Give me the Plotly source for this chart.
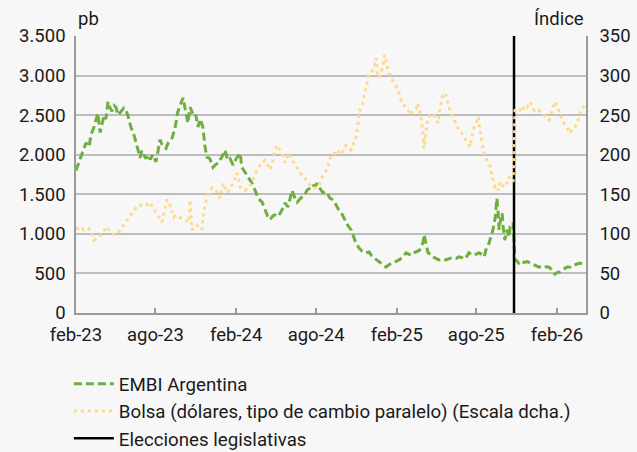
import plotly.graph_objects as go

embi_dates = [
"2023-02-01","2023-02-10","2023-02-17","2023-02-24","2023-03-03","2023-03-07","2023-03-14","2023-03-19","2023-03-23","2023-03-28",
"2023-04-01","2023-04-06","2023-04-10","2023-04-15","2023-04-19","2023-04-24","2023-04-29","2023-05-03","2023-05-08","2023-05-12",
"2023-05-17","2023-05-21","2023-05-26","2023-05-30","2023-06-06","2023-06-13","2023-06-18","2023-06-22","2023-06-27","2023-07-01",
"2023-07-06","2023-07-10","2023-07-15","2023-07-20","2023-07-26","2023-08-02","2023-08-07","2023-08-11","2023-08-16","2023-08-20",
"2023-08-25","2023-08-30","2023-09-03","2023-09-08","2023-09-15","2023-09-21","2023-09-28","2023-10-03","2023-10-07","2023-10-10",
"2023-10-14","2023-10-19","2023-10-23","2023-10-28","2023-11-01","2023-11-06","2023-11-11","2023-11-17","2023-11-22","2023-11-26",
"2023-12-03","2023-12-10","2023-12-17","2023-12-22","2023-12-28","2024-01-02","2024-01-06","2024-01-13","2024-01-18","2024-01-25",
"2024-02-01","2024-02-05","2024-02-10","2024-02-14","2024-02-21","2024-02-26","2024-03-03","2024-03-08","2024-03-15","2024-03-22",
"2024-03-31","2024-04-07","2024-04-13","2024-04-18","2024-04-25","2024-04-29","2024-05-06","2024-05-11","2024-05-18","2024-05-22",
"2024-05-29","2024-06-03","2024-06-07","2024-06-14","2024-06-19","2024-06-25","2024-06-30","2024-07-07","2024-07-11","2024-07-18",
"2024-07-23","2024-07-30","2024-08-03","2024-08-10","2024-08-17","2024-08-24","2024-09-02","2024-09-09","2024-09-15","2024-09-22",
"2024-09-29","2024-10-08","2024-10-13","2024-10-20","2024-10-26","2024-10-31","2024-11-07","2024-11-14","2024-11-23","2024-11-30",
"2024-12-06","2024-12-16","2024-12-22","2024-12-27","2025-01-03","2025-01-07","2025-01-14","2025-01-23","2025-01-30","2025-02-06",
"2025-02-13","2025-02-22","2025-03-01","2025-03-05","2025-03-12","2025-03-17","2025-03-24","2025-03-28","2025-04-02","2025-04-04",
"2025-04-09","2025-04-13","2025-04-20","2025-04-24","2025-05-01","2025-05-08","2025-05-17","2025-05-24","2025-06-02","2025-06-09",
"2025-06-16","2025-06-23","2025-06-29","2025-07-04","2025-07-11","2025-07-15","2025-07-22","2025-07-27","2025-08-03","2025-08-07",
"2025-08-14","2025-08-19","2025-08-25","2025-08-30","2025-09-01","2025-09-06","2025-09-08","2025-09-13","2025-09-15","2025-09-17",
"2025-09-20","2025-09-22","2025-09-24","2025-09-29","2025-10-01","2025-10-03","2025-10-05","2025-10-10","2025-10-12","2025-10-15",
"2025-10-17","2025-10-21","2025-10-24","2025-10-27","2025-10-28","2025-11-06","2025-11-11","2025-11-18","2025-11-25","2025-11-29",
"2025-12-06","2025-12-11","2025-12-17","2025-12-22","2025-12-29","2026-01-02","2026-01-09","2026-01-14","2026-01-21","2026-01-27",
"2026-02-01","2026-02-08","2026-02-12","2026-02-19","2026-02-24","2026-03-03","2026-03-07","2026-03-14","2026-03-19","2026-03-25",
"2026-03-30","2026-04-06"]
embi_values = [
1800,1950,2050,2150,2100,2250,2350,2450,2520,2280,
2400,2500,2450,2670,2600,2550,2620,2600,2500,2530,
2560,2590,2560,2500,2350,2250,2150,2050,1960,2050,
2000,1950,2000,1940,2000,1910,2050,2190,2130,2100,
2080,2150,2180,2210,2350,2540,2650,2720,2600,2500,
2400,2600,2550,2480,2500,2350,2450,2350,2100,1970,
1950,1840,1880,1890,1950,2000,2060,1930,1950,1870,
1950,1980,2020,1840,1780,1720,1680,1640,1550,1450,
1400,1300,1220,1180,1230,1240,1220,1260,1330,1390,
1340,1450,1550,1450,1400,1440,1470,1500,1550,1580,
1620,1600,1640,1570,1520,1530,1450,1430,1370,1300,
1250,1140,1100,1050,950,880,820,780,760,770,
720,670,650,630,600,580,610,630,650,670,
700,760,740,730,760,770,790,820,900,990,
850,760,740,710,690,670,680,670,690,700,
690,710,700,680,720,760,740,730,750,760,
740,710,840,880,920,1000,1050,1200,1300,1450,
1250,1050,1140,1260,1100,1010,920,1050,1000,960,
1090,1100,1140,800,680,630,660,640,650,640,
620,610,590,580,590,580,585,580,540,490,
510,520,540,560,580,580,600,610,620,630,
620,590]

bolsa_dates = [
"2023-02-01","2023-02-08","2023-02-12","2023-02-19","2023-02-26","2023-03-03","2023-03-07","2023-03-12","2023-03-14","2023-03-19",
"2023-03-26","2023-03-31","2023-04-06","2023-04-10","2023-04-15","2023-04-22","2023-04-26","2023-05-03","2023-05-08","2023-05-15",
"2023-05-19","2023-05-26","2023-05-30","2023-06-06","2023-06-10","2023-06-18","2023-06-22","2023-06-29","2023-07-06","2023-07-10",
"2023-07-15","2023-07-20","2023-07-24","2023-07-29","2023-08-04","2023-08-09","2023-08-16","2023-08-20","2023-08-25","2023-08-27",
"2023-09-01","2023-09-05","2023-09-12","2023-09-17","2023-09-24","2023-09-28","2023-10-05","2023-10-10","2023-10-17","2023-10-19",
"2023-10-21","2023-10-23","2023-10-30","2023-11-03","2023-11-11","2023-11-15","2023-11-17","2023-11-22","2023-11-26","2023-12-03",
"2023-12-08","2023-12-15","2023-12-19","2023-12-26","2024-01-02","2024-01-06","2024-01-13","2024-01-18","2024-01-25","2024-01-29",
"2024-02-03","2024-02-10","2024-02-14","2024-02-21","2024-02-28","2024-03-03","2024-03-10","2024-03-15","2024-03-22","2024-03-29",
"2024-04-02","2024-04-07","2024-04-13","2024-04-18","2024-04-25","2024-04-29","2024-05-04","2024-05-11","2024-05-15","2024-05-22",
"2024-05-29","2024-06-03","2024-06-10","2024-06-14","2024-06-21","2024-06-25","2024-07-02","2024-07-07","2024-07-14","2024-07-18",
"2024-07-25","2024-07-30","2024-08-06","2024-08-10","2024-08-15","2024-08-22","2024-08-26","2024-09-02","2024-09-09","2024-09-15",
"2024-09-20","2024-09-27","2024-10-01","2024-10-08","2024-10-13","2024-10-20","2024-10-24","2024-10-31","2024-11-05","2024-11-07",
"2024-11-14","2024-11-18","2024-11-25","2024-11-30","2024-12-06","2024-12-11","2024-12-16","2024-12-18","2024-12-22","2024-12-27",
"2024-12-31","2025-01-04","2025-01-09","2025-01-14","2025-01-20","2025-01-25","2025-02-01","2025-02-06","2025-02-10","2025-02-15",
"2025-02-22","2025-02-26","2025-03-05","2025-03-10","2025-03-17","2025-03-21","2025-03-26","2025-03-28","2025-04-02","2025-04-04",
"2025-04-09","2025-04-13","2025-04-20","2025-04-24","2025-05-01","2025-05-06","2025-05-10","2025-05-15","2025-05-19","2025-05-24",
"2025-05-31","2025-06-04","2025-06-11","2025-06-18","2025-06-23","2025-06-29","2025-07-06","2025-07-11","2025-07-18","2025-07-22",
"2025-07-27","2025-08-01","2025-08-05","2025-08-07","2025-08-12","2025-08-16","2025-08-21","2025-08-25","2025-08-30","2025-09-04",
"2025-09-06","2025-09-11","2025-09-13","2025-09-17","2025-09-20","2025-09-24","2025-09-29","2025-10-03","2025-10-08","2025-10-10",
"2025-10-15","2025-10-19","2025-10-24","2025-10-27","2025-10-28","2025-11-06","2025-11-13","2025-11-19","2025-11-25","2025-12-01",
"2025-12-06","2025-12-11","2025-12-17","2025-12-22","2025-12-29","2026-01-02","2026-01-09","2026-01-14","2026-01-21","2026-01-27",
"2026-02-01","2026-02-05","2026-02-12","2026-02-16","2026-02-23","2026-03-03","2026-03-07","2026-03-14","2026-03-19","2026-03-25",
"2026-03-30","2026-04-06"]
bolsa_values = [
106,108,109,105,107,106,105,97,92,94,
96,100,104,109,106,102,100,99,101,107,
110,115,118,124,128,134,136,136,135,136,
138,140,135,130,125,121,115,125,138,143,
140,134,121,124,121,120,118,117,115,143,
125,105,108,111,107,105,121,135,147,155,
158,156,153,145,164,158,152,158,164,170,
177,159,157,155,157,159,168,175,184,188,
191,193,186,181,193,205,212,205,202,190,
202,197,191,186,181,177,172,170,164,162,
158,158,159,165,172,178,181,196,197,206,
204,200,205,212,210,206,212,222,240,254,
262,273,290,303,305,311,322,305,297,305,
311,326,315,303,296,291,285,278,270,265,
258,256,250,256,258,265,255,248,225,208,
230,248,250,252,246,240,258,272,278,275,
260,252,246,235,232,227,220,216,210,222,
235,240,248,240,222,210,197,193,190,180,
172,165,159,160,155,166,162,159,162,164,
172,168,166,231,256,259,254,262,260,267,
262,256,258,256,252,250,246,244,256,267,
262,256,246,240,235,227,232,235,240,252,
258,263]

election_date = "2025-10-26"

tick_dates = ["2023-02-01","2023-08-01","2024-02-01","2024-08-01","2025-02-01","2025-08-01","2026-02-01"]
tick_labels = ["feb-23","ago-23","feb-24","ago-24","feb-25","ago-25","feb-26"]

names = ["EMBI Argentina", "Bolsa (dólares, tipo de cambio paralelo) (Escala dcha.)", "Elecciones legislativas"]

GREEN = "#6fae3f"
GOLD = "#ffd98a"
GRID = "#bdbdbd"
BG = "#f7f7f7"
TXT = "#1a1a1a"
FS = 18.5
LFS = 18.7

fig = go.Figure()
fig.add_trace(go.Scatter(x=embi_dates, y=embi_values, name=names[0], mode="lines", legendgroup="a",
                         line=dict(color=GREEN, width=3, dash="8px,4px")))
fig.add_trace(go.Scatter(x=bolsa_dates, y=bolsa_values, name=names[1], mode="lines", yaxis="y2", legendgroup="b",
                         line=dict(color=GOLD, width=3, dash="3px,4px")))
fig.add_trace(go.Scatter(x=[election_date, election_date], y=[0, 3500], name=names[2], mode="lines", legendgroup="c",
                         line=dict(color="black", width=2.5)))

fig.update_layout(
    width=637, height=452,
    margin=dict(l=76, r=51, t=36, b=139, autoexpand=False),
    paper_bgcolor=BG, plot_bgcolor=BG,
    font=dict(family="Roboto", size=FS, color=TXT),
    separators=",.",
    showlegend=True,
    legend=dict(x=-0.014, xanchor="left", y=-0.188, yanchor="top", orientation="v",
                bgcolor="rgba(0,0,0,0)", font=dict(size=LFS), itemwidth=40,
                tracegroupgap=3, traceorder="normal"),
    xaxis=dict(type="date", range=["2023-02-01", "2026-04-08"],
               tickvals=tick_dates, ticktext=tick_labels,
               ticks="inside", ticklen=5, tickcolor="#9a9a9a", tickwidth=1.5,
               showgrid=False, showline=True, linecolor="#9a9a9a", linewidth=1.5,
               zeroline=False, ticklabelstandoff=4),
    yaxis=dict(range=[0, 3500], dtick=500, tick0=0, tickformat=",d",
               showgrid=True, gridcolor=GRID, gridwidth=1.5,
               showline=True, linecolor="#9a9a9a", linewidth=1.5,
               zeroline=False, ticks="", ticklabelstandoff=5),
    yaxis2=dict(range=[0, 350], dtick=50, tick0=0, overlaying="y", side="right",
                showgrid=False, showline=True, linecolor="#9a9a9a", linewidth=1.5,
                zeroline=False, ticks="", ticklabelstandoff=8),
    annotations=[
        dict(text="pb", xref="paper", yref="paper", x=0, y=1, xanchor="left", yanchor="bottom",
             yshift=4, showarrow=False, font=dict(size=FS, color=TXT)),
        dict(text="Índice", xref="paper", yref="paper", x=1, y=1, xanchor="right", yanchor="bottom",
             yshift=4, showarrow=False, font=dict(size=FS, color=TXT)),
    ],
)

fig.write_html("out.html", config={"displayModeBar": False},
               post_script="document.body.style.margin='0px';document.body.style.padding='0px';document.body.style.overflow='hidden';")
